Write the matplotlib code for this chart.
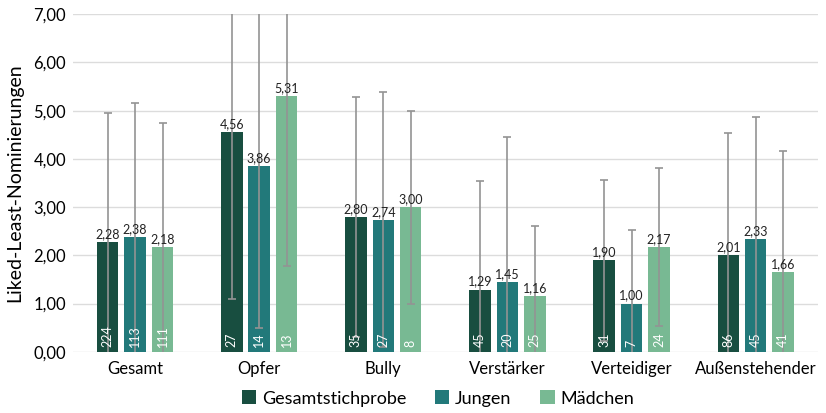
import numpy as np
import matplotlib
matplotlib.use('Agg')
import matplotlib.pyplot as plt
from matplotlib.patches import Patch

plt.rcParams['font.family'] = ['Lato', 'DejaVu Sans']

# Mittelwerte, Standardabweichungen und Stichprobengrößen je Rolle
categories = ['Gesamt', 'Opfer', 'Bully', 'Verstärker', 'Verteidiger', 'Außenstehender']
groups = ['Gesamtstichprobe', 'Jungen', 'Mädchen']

means_total = [2.28, 4.56, 2.80, 1.29, 1.90, 2.01]
means_boys = [2.38, 3.86, 2.74, 1.45, 1.00, 2.33]
means_girls = [2.18, 5.31, 3.00, 1.16, 2.17, 1.66]

sd_total = [2.67, 3.47, 2.49, 2.26, 1.67, 2.53]
sd_boys = [2.78, 3.37, 2.65, 3.01, 1.52, 2.53]
sd_girls = [2.56, 3.53, 2.00, 1.45, 1.64, 2.51]

n_total = [224, 27, 35, 45, 31, 86]
n_boys = [113, 14, 27, 20, 7, 45]
n_girls = [111, 13, 8, 25, 24, 41]

colors = ['#184E40', '#22797A', '#78B993']
ticks = ['0,00', '1,00', '2,00', '3,00', '4,00', '5,00', '6,00', '7,00']

series = [
    (means_total, sd_total, n_total),
    (means_boys, sd_boys, n_boys),
    (means_girls, sd_girls, n_girls),
]

fig = plt.figure(figsize=(8.26, 4.13), dpi=100)
ax = fig.add_axes([0.0884, 0.1484, 0.9016, 0.817])

x = np.arange(len(categories))
width = 0.173
step = 0.221

for i, (means, sds, ns) in enumerate(series):
    pos = x + (i - 1) * step
    ax.bar(pos, means, width, color=colors[i], zorder=2)
    ax.errorbar(pos, means, yerr=sds, fmt='none', ecolor='#939393',
                elinewidth=1.2, capsize=3, capthick=1.2, zorder=3)
    for px, m, n in zip(pos, means, ns):
        ax.text(px, m + 0.04, f'{m:.2f}'.replace('.', ','), ha='center',
                va='bottom', fontsize=9, color='#222222', zorder=4)
        ax.text(px, 0.1, str(n), ha='center', va='bottom', rotation=90,
                fontsize=9, color='white', zorder=4)

ax.set_xlim(-0.5, len(categories) - 0.5)
ax.set_ylim(0, 7)
ax.set_yticks(range(8))
ax.set_yticklabels(ticks, fontsize=12)
ax.set_xticks(x)
ax.set_xticklabels(categories, fontsize=12)
ax.tick_params(length=0, pad=5)
ax.tick_params(axis='x', pad=7)
ax.grid(axis='y', color='#dcdcdc', linewidth=1, zorder=0)
ax.set_axisbelow(True)
for s in ax.spines.values():
    s.set_visible(False)

ax.set_ylabel('Liked-Least-Nominierungen', fontsize=14, labelpad=7)

handles = [Patch(facecolor=c, label=g) for c, g in zip(colors, groups)]
fig.legend(handles=handles, loc='center', bbox_to_anchor=(0.53, 0.035),
           ncol=3, frameon=False, fontsize=13, handlelength=0.8,
           handleheight=0.8, handletextpad=0.3, columnspacing=1.6)

fig.savefig('out.png', dpi=100)
